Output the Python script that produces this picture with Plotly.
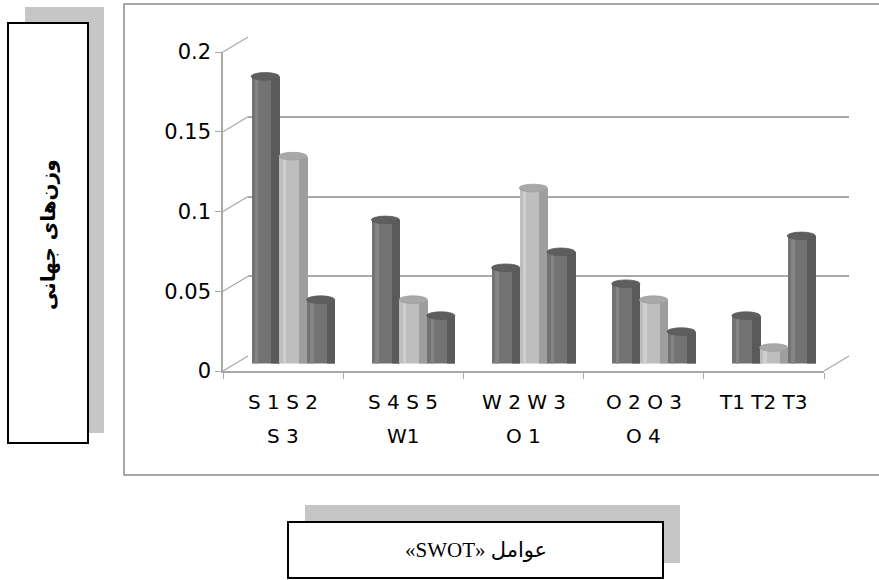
import plotly.graph_objects as go

# ---------------- data ----------------
categories = [0, 1, 2, 3, 4]
label_line1 = ["S 1 S 2", "S 4 S 5", "W 2 W 3", "O 2 O 3", "T1 T2 T3"]
label_line2 = ["S 3", "W1", "O 1", "O 4", ""]
series_a = [0.18, 0.09, 0.06, 0.05, 0.03]
series_b = [0.13, 0.04, 0.11, 0.04, 0.01]
series_c = [0.04, 0.03, 0.07, 0.02, 0.08]
y_ticks = [0, 0.05, 0.1, 0.15, 0.2]
y_ticktext = ["0", "0.05", "0.1", "0.15", "0.2"]
y_title = "وزن‌های جهانی"
x_title = "«SWOT» عوامل"

# ---------------- geometry (pixels) ----------------
W, H = 879, 580
FL, FR, FB, FT = 223, 824, 371, 52      # front plane of the 3D box
DX, DY = 25, 15                          # depth offset of back wall
YMAX = 0.2

def px(x):
    return x / W

def py(y):
    return 1 - y / H

fig = go.Figure()

series = [
    (series_a, -0.37, "#737373", "#5a5a5a", "#858585", "#5e5e5e"),
    (series_b, -0.14, "#bebebe", "#9e9e9e", "#cecece", "#a8a8a8"),
    (series_c, 0.09, "#737373", "#5a5a5a", "#858585", "#5e5e5e"),
]
BW = 0.235
shapes = []
for vals, off, main, side, hi, cap in series:
    fig.add_trace(go.Bar(x=categories, y=vals, offset=off, width=BW,
                         marker=dict(color=main, line=dict(width=0)),
                         xaxis="x3", yaxis="y3", hoverinfo="skip"))
    fig.add_trace(go.Bar(x=categories, y=vals, offset=off + BW * 0.70, width=BW * 0.30,
                         marker=dict(color=side, line=dict(width=0)),
                         xaxis="x3", yaxis="y3", hoverinfo="skip"))
    fig.add_trace(go.Bar(x=categories, y=vals, offset=off + BW * 0.12, width=BW * 0.12,
                         marker=dict(color=hi, line=dict(width=0)),
                         xaxis="x3", yaxis="y3", hoverinfo="skip"))
    for c, v in zip(categories, vals):
        shapes.append(dict(type="circle", xref="x3", yref="y3", layer="above",
                           x0=c + off, x1=c + off + BW, y0=v - 0.0024, y1=v + 0.0024,
                           fillcolor=cap, line=dict(color=side, width=0.8)))

# invisible trace to register back-wall subplot
fig.add_trace(go.Scatter(x=categories, y=[None] * len(categories), xaxis="x2", yaxis="y2",
                         mode="lines", hoverinfo="skip", showlegend=False))

grid_col = "#a8a8a8"
for v in y_ticks:
    yf = FB - v / YMAX * (FB - FT)
    shapes.append(dict(type="line", xref="paper", yref="paper",
                       x0=px(FL), y0=py(yf), x1=px(FL + DX), y1=py(yf - DY),
                       line=dict(color=grid_col, width=1.3)))
shapes.append(dict(type="line", xref="paper", yref="paper",
                   x0=px(FR), y0=py(FB), x1=px(FR + DX), y1=py(FB - DY),
                   line=dict(color=grid_col, width=1.3)))

shapes.append(dict(type="rect", xref="paper", yref="paper", layer="below",
                   x0=px(124), x1=px(890), y0=py(475), y1=py(4),
                   line=dict(color="#8a8a8a", width=1.5)))
shapes.append(dict(type="rect", xref="paper", yref="paper", layer="below",
                   x0=px(25), x1=px(104), y0=py(433), y1=py(7),
                   fillcolor="#c6c6c6", line=dict(width=0)))
shapes.append(dict(type="rect", xref="paper", yref="paper", layer="below",
                   x0=px(8), x1=px(88), y0=py(443), y1=py(23),
                   fillcolor="white", line=dict(color="black", width=2)))
shapes.append(dict(type="rect", xref="paper", yref="paper", layer="below",
                   x0=px(305), x1=px(680), y0=py(563), y1=py(505),
                   fillcolor="#c6c6c6", line=dict(width=0)))
shapes.append(dict(type="rect", xref="paper", yref="paper", layer="below",
                   x0=px(288), x1=px(663), y0=py(578), y1=py(522),
                   fillcolor="white", line=dict(color="black", width=2)))

lab_font = dict(family="DejaVu Sans", size=20, color="black")
annotations = []
for c, l1, l2 in zip(categories, label_line1, label_line2):
    annotations.append(dict(xref="x", yref="paper", x=c, y=py(402), text=l1,
                            xanchor="center", yanchor="middle",
                            showarrow=False, font=lab_font))
    if l2:
        annotations.append(dict(xref="x", yref="paper", x=c, y=py(436), text=l2,
                                xanchor="center", yanchor="middle",
                                showarrow=False, font=lab_font))
annotations.append(dict(xref="paper", yref="paper", x=px(48), y=py(235), text="<b>" + y_title + "</b>",
                        textangle=-90, showarrow=False, xanchor="center", yanchor="middle",
                        font=dict(family="DejaVu Sans", size=20, color="black")))
annotations.append(dict(xref="paper", yref="paper", x=px(476), y=py(550), text=x_title,
                        showarrow=False, xanchor="center", yanchor="middle",
                        font=dict(family="Liberation Serif, DejaVu Sans", size=21, color="black")))

axis_font = dict(family="DejaVu Sans", size=21, color="black")
fig.update_layout(
    width=W, height=H, margin=dict(l=0, r=0, t=0, b=0, pad=0, autoexpand=False),
    paper_bgcolor="white", plot_bgcolor="rgba(0,0,0,0)",
    showlegend=False, barmode="overlay", bargap=0,
    shapes=shapes, annotations=annotations,
    xaxis=dict(domain=[px(FL), px(FR)], range=[-0.5, 4.5], anchor="y", automargin=False,
               showline=True, linecolor=grid_col, linewidth=1.5,
               tickmode="array", tickvals=[-0.5, 0.5, 1.5, 2.5, 3.5, 4.5],
               ticks="outside", ticklen=6, tickcolor=grid_col, tickwidth=1.3,
               showticklabels=False, showgrid=False, zeroline=False),
    yaxis=dict(domain=[py(FB), py(FT)], range=[0, YMAX], anchor="x", automargin=False,
               showline=True, linecolor=grid_col, linewidth=1.5,
               tickmode="array", tickvals=y_ticks, ticktext=y_ticktext,
               ticks="outside", ticklen=6, tickcolor=grid_col, tickwidth=1.3,
               tickfont=axis_font, showgrid=False, zeroline=False),
    xaxis2=dict(domain=[px(FL + DX), px(FR + DX)], range=[-0.5, 4.5], anchor="y2",
                visible=False, showgrid=False, automargin=False),
    yaxis2=dict(domain=[py(FB - DY), py(FT - DY)], range=[0, YMAX], anchor="x2",
                tickmode="array", tickvals=y_ticks, showticklabels=False, automargin=False,
                showgrid=True, gridcolor=grid_col, gridwidth=1.5,
                zeroline=False, showline=False, ticks=""),
    xaxis3=dict(domain=[px(FL + DX / 2), px(FR + DX / 2)], range=[-0.5, 4.5], anchor="y3",
                visible=False, showgrid=False, automargin=False),
    yaxis3=dict(domain=[py(FB - DY / 2), py(FT - DY / 2)], range=[0, YMAX], anchor="x3",
                visible=False, showgrid=False, automargin=False),
)

fig.write_html("out.html", config={"displayModeBar": False},
               post_script="document.body.style.margin='0px';")
